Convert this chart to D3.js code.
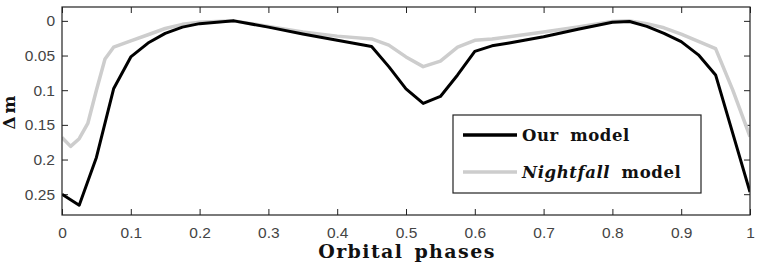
<!DOCTYPE html>
<html lang="en">
  <head>
    <meta charset="UTF-8" />
    <title>light curves</title>
    <style>
      body { margin: 0; background: #fff; }
      svg { display: block; }
      .tick text { font-family: "Liberation Sans", Arial, sans-serif; font-size: 15.5px; fill: #444; }
      .serif { font-family: "DejaVu Serif", serif; font-weight: bold; fill: #111; }
    </style>
  </head>
  <body>
    <svg id="svg" width="769" height="270"></svg>

    <script src="https://d3js.org/d3.v7.min.js"></script>
    <script>
      // our model (black)
      const ourPhase = [0, 0.025, 0.05, 0.075, 0.1, 0.125, 0.15, 0.175, 0.2, 0.25, 0.3, 0.35, 0.4, 0.45, 0.475, 0.5, 0.525, 0.55, 0.575, 0.6, 0.625, 0.65, 0.7, 0.75, 0.8, 0.825, 0.85, 0.875, 0.9, 0.925, 0.95, 1];
      const ourDm = [0.25, 0.266, 0.197, 0.098, 0.052, 0.032, 0.018, 0.009, 0.004, 0.0, 0.009, 0.019, 0.028, 0.037, 0.066, 0.098, 0.119, 0.109, 0.078, 0.044, 0.036, 0.032, 0.023, 0.012, 0.002, 0.001, 0.008, 0.018, 0.03, 0.049, 0.078, 0.247];

      // Nightfall model (grey)
      const nfPhase = [0, 0.0125, 0.025, 0.0375, 0.05, 0.0625, 0.075, 0.1, 0.125, 0.15, 0.175, 0.2, 0.25, 0.3, 0.35, 0.4, 0.45, 0.475, 0.5, 0.525, 0.55, 0.575, 0.6, 0.625, 0.65, 0.7, 0.75, 0.8, 0.825, 0.85, 0.875, 0.9, 0.95, 0.975, 1];
      const nfDm = [0.168, 0.181, 0.17, 0.148, 0.1, 0.055, 0.038, 0.029, 0.02, 0.011, 0.005, 0.002, 0.0, 0.008, 0.016, 0.022, 0.026, 0.035, 0.052, 0.066, 0.058, 0.038, 0.028, 0.026, 0.023, 0.016, 0.009, 0.001, 0.0, 0.004, 0.01, 0.019, 0.04, 0.1, 0.167];

      const xTicks = [0, 0.1, 0.2, 0.3, 0.4, 0.5, 0.6, 0.7, 0.8, 0.9, 1];
      const yTicks = [0, 0.05, 0.1, 0.15, 0.2, 0.25];

      const m = { left: 62, right: 750, top: 7, bottom: 215 };

      const x = d3.scaleLinear().domain([0, 1]).range([m.left, m.right]);
      const y = d3.scaleLinear().domain([-0.02, 0.28]).range([m.top, m.bottom]);

      const svg = d3.select("#svg");

      // axes, ticks pointing inside
      svg.append("g")
        .attr("transform", `translate(0,${m.bottom})`)
        .call(d3.axisBottom(x).tickValues(xTicks).tickSizeInner(-6).tickSizeOuter(0).tickPadding(12).tickFormat(d3.format("")))
        .call((g) => g.select(".domain").remove());
      svg.append("g")
        .attr("transform", `translate(0,${m.top})`)
        .call(d3.axisTop(x).tickValues(xTicks).tickSizeInner(-6).tickSizeOuter(0).tickFormat(""))
        .call((g) => g.select(".domain").remove());
      svg.append("g")
        .attr("transform", `translate(${m.left},0)`)
        .call(d3.axisLeft(y).tickValues(yTicks).tickSizeInner(-6).tickSizeOuter(0).tickPadding(7).tickFormat(d3.format("")))
        .call((g) => g.select(".domain").remove());
      svg.append("g")
        .attr("transform", `translate(${m.right},0)`)
        .call(d3.axisRight(y).tickValues(yTicks).tickSizeInner(-6).tickSizeOuter(0).tickFormat(""))
        .call((g) => g.select(".domain").remove());
      svg.selectAll(".tick line").attr("stroke", "#222");

      svg.append("clipPath").attr("id", "clip")
        .append("rect").attr("x", m.left).attr("y", m.top).attr("width", m.right - m.left).attr("height", m.bottom - m.top);

      const line = d3.line().x((d) => x(d[0])).y((d) => y(d[1]));
      const plot = svg.append("g").attr("clip-path", "url(#clip)");

      plot.append("path")
        .datum(nfPhase.map((p, i) => [p, nfDm[i]]))
        .attr("d", line)
        .attr("fill", "none")
        .attr("stroke", "#cdcdcd")
        .attr("stroke-width", 3.5)
        .attr("stroke-linejoin", "round");

      plot.append("path")
        .datum(ourPhase.map((p, i) => [p, ourDm[i]]))
        .attr("d", line)
        .attr("fill", "none")
        .attr("stroke", "#000")
        .attr("stroke-width", 3)
        .attr("stroke-linejoin", "round");

      // frame
      svg.append("rect")
        .attr("x", m.left).attr("y", m.top)
        .attr("width", m.right - m.left).attr("height", m.bottom - m.top)
        .attr("fill", "none").attr("stroke", "#222").attr("stroke-width", 1.2);

      // legend
      const lg = svg.append("g");
      lg.append("rect").attr("x", 453).attr("y", 115).attr("width", 248).attr("height", 78)
        .attr("fill", "#fff").attr("stroke", "#222").attr("stroke-width", 1.2);
      lg.append("line").attr("x1", 463).attr("x2", 517).attr("y1", 135).attr("y2", 135)
        .attr("stroke", "#000").attr("stroke-width", 3.5);
      lg.append("line").attr("x1", 463).attr("x2", 517).attr("y1", 172).attr("y2", 172)
        .attr("stroke", "#cdcdcd").attr("stroke-width", 3.5);
      lg.append("text").attr("class", "serif").attr("x", 522).attr("y", 141)
        .style("font-size", "16.5px").style("letter-spacing", "0.6px").style("word-spacing", "5px")
        .text("Our model");
      const t2 = lg.append("text").attr("class", "serif").attr("x", 522).attr("y", 178)
        .style("font-size", "16.5px").style("letter-spacing", "0.6px").style("word-spacing", "5px");
      t2.append("tspan").style("font-style", "italic").text("Nightfall");
      t2.append("tspan").text(" model");

      // axis titles
      svg.append("text").attr("class", "serif").attr("x", (m.left + m.right) / 2 + 1).attr("y", 258)
        .attr("text-anchor", "middle")
        .style("font-size", "19px").style("letter-spacing", "1.4px").style("word-spacing", "3px")
        .text("Orbital phases");
      svg.append("text").attr("class", "serif")
        .attr("transform", "translate(15,111) rotate(-90)")
        .attr("text-anchor", "middle")
        .style("font-size", "17px").style("letter-spacing", "3px")
        .text("Δm");
    </script>
  </body>
</html>
